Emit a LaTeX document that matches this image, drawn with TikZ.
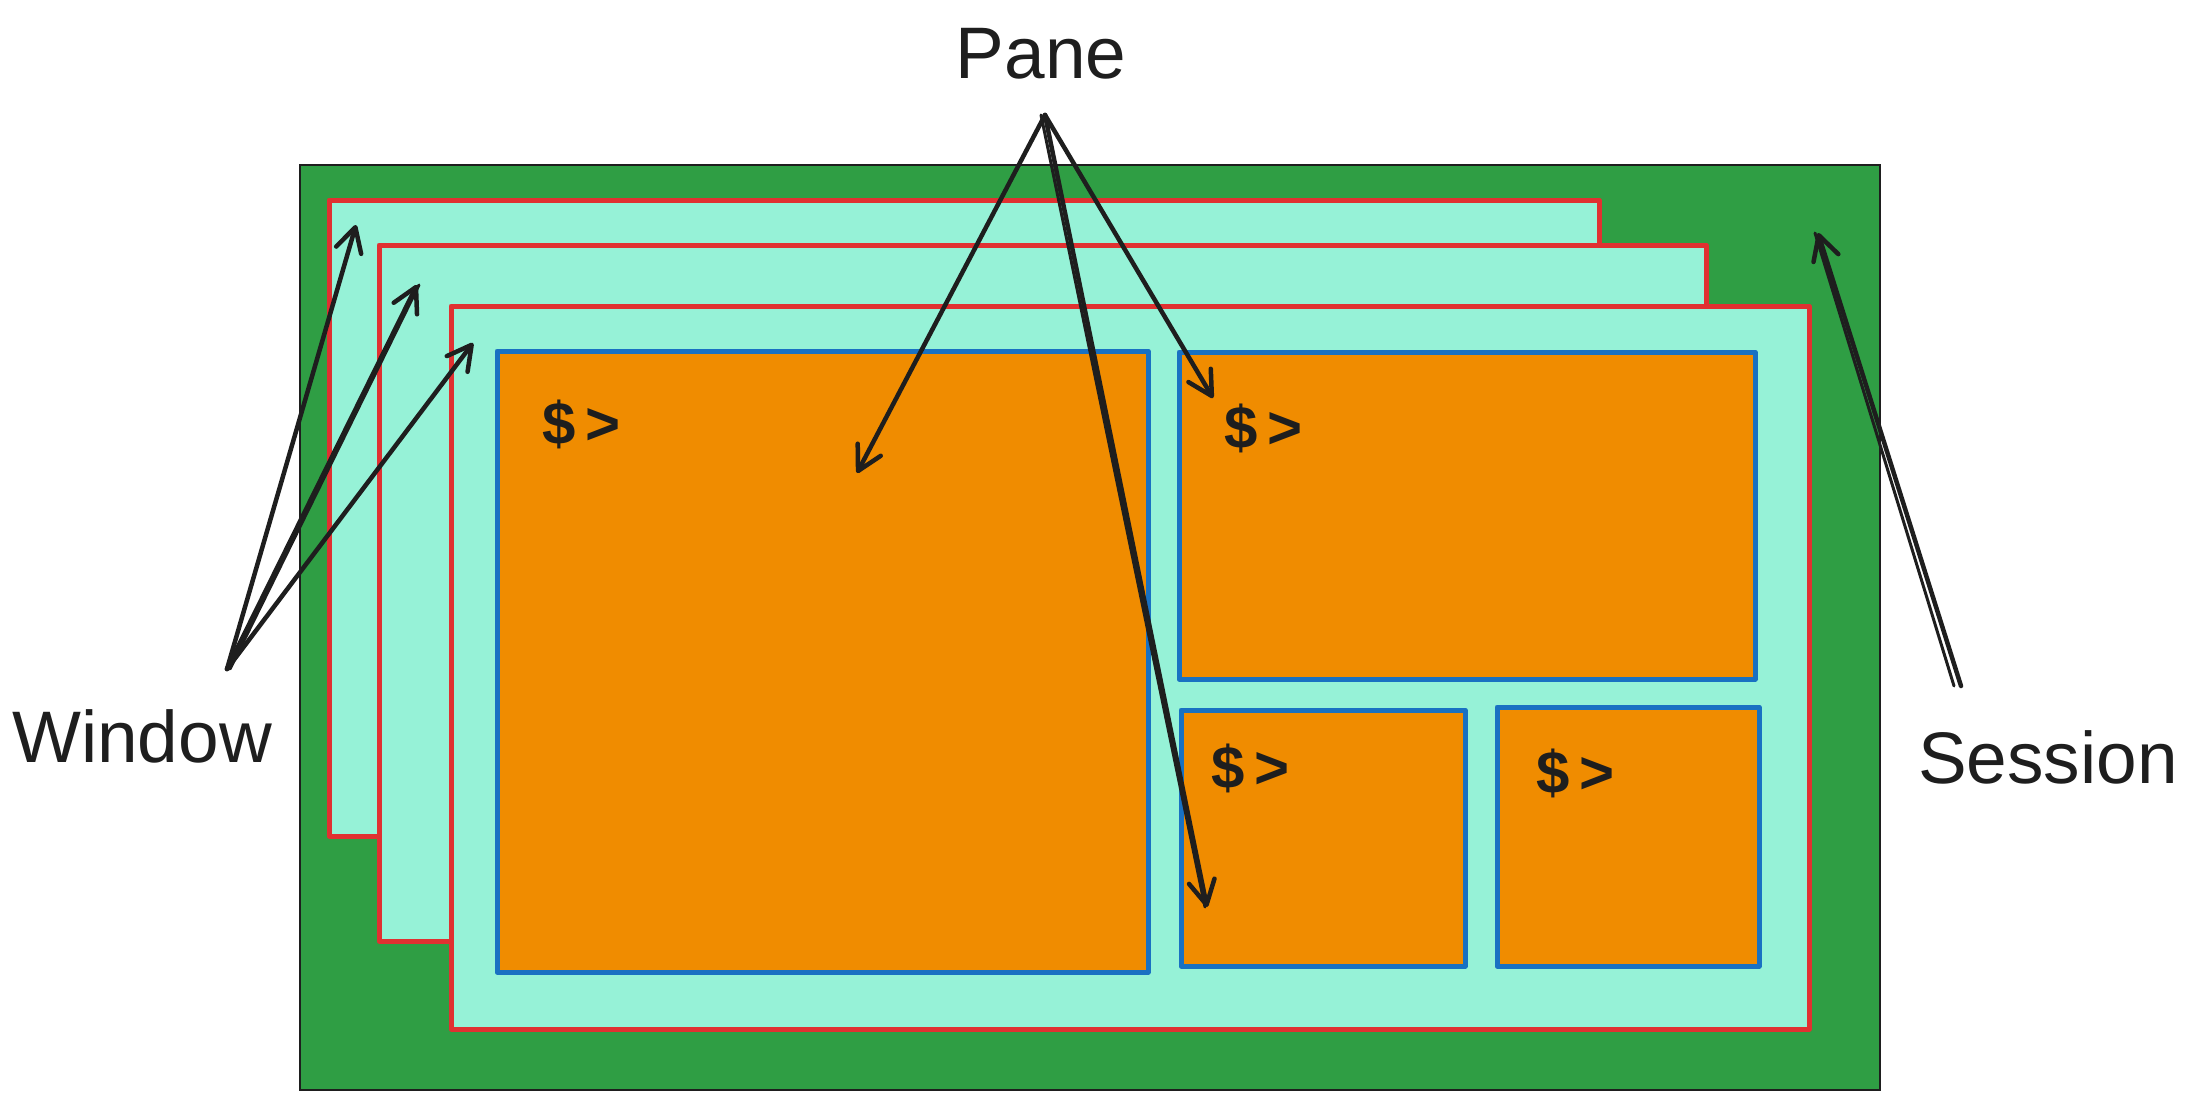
\documentclass[tikz,border=0pt]{standalone}
\usepackage{fontspec}
\setmainfont{Liberation Sans}
\usetikzlibrary{arrows.meta}
\definecolor{sessgreen}{HTML}{2F9E44}
\definecolor{wincyan}{HTML}{96F2D7}
\definecolor{winred}{HTML}{E03131}
\definecolor{paneorange}{HTML}{F08C00}
\definecolor{paneblue}{HTML}{1971C2}
\definecolor{ink}{HTML}{1E1E1E}
\tikzset{
  box/.style={anchor=north west, inner sep=0pt, outer sep=0pt},
  sessbox/.style={box, draw=ink, fill=sessgreen, line width=2.5pt},
  winbox/.style={box, draw=winred, fill=wincyan, line width=5pt, line join=round},
  panebox/.style={box, draw=paneblue, fill=paneorange, line width=5pt, line join=round},
  prompt/.style={anchor=base west, inner sep=0pt, text=ink, font=\fontsize{60}{60}\selectfont\bfseries},
  lbl/.style={anchor=base, inner sep=0pt, text=ink, font=\fontsize{73}{73}\selectfont},
  arr/.style={draw=ink, line width=4.5pt, line cap=round, line join=round,
    -{Straight Barb[length=24pt,width=26pt,line cap=round,line join=round]}},
  ghost/.style={draw=ink, line width=3pt, line cap=round},
}
\begin{document}
\begin{tikzpicture}[x=1pt,y=-1pt]
\useasboundingbox (0,0) rectangle (2196,1101);
% session
\node[sessbox, minimum width=1580pt, minimum height=925pt] (session) at (300,165) {};
% windows
\node[winbox, minimum width=1270pt, minimum height=636pt] (win1) at (329,200) {};
\node[winbox, minimum width=1327pt, minimum height=696pt] (win2) at (379,245) {};
\node[winbox, minimum width=1358pt, minimum height=723pt] (win3) at (451,306) {};
% panes
\node[panebox, minimum width=651pt, minimum height=621pt] (pane1) at (497,351) {};
\node[panebox, minimum width=576pt, minimum height=327pt] (pane2) at (1179,352) {};
\node[panebox, minimum width=284pt, minimum height=256pt] (pane3) at (1181,710) {};
\node[panebox, minimum width=262pt, minimum height=259pt] (pane4) at (1497,707) {};
% prompts
\node[prompt] (pr1) at (542,444) {\$\kern10pt>};
\node[prompt] (pr2) at (1224,448) {\$\kern10pt>};
\node[prompt] (pr3) at (1211,788) {\$\kern10pt>};
\node[prompt] (pr4) at (1536,793) {\$\kern10pt>};
% labels
\node[lbl] (paneLbl) at (1041,78) {Pane};
\node[lbl] (winLbl) at (142,762) {Window};
\node[lbl] (sessLbl) at (2048,783) {Session};
% arrow ends
\coordinate (paneSrc) at (1045,115);
\coordinate (winSrc) at (227,669);
\coordinate (sessSrc) at (1961,686);
\coordinate (tipP1) at (857,473);
\coordinate (tipP2) at (1213,398);
\coordinate (tipP3) at (1207,907);
\coordinate (tipW1) at (356,225);
\coordinate (tipW2) at (417,285);
\coordinate (tipW3) at (473,343);
\coordinate (tipS) at (1818,233);
% pane arrows
\draw[arr] (paneSrc) -- (tipP1);
\draw[arr] (paneSrc) -- (tipP2);
\draw[arr] (paneSrc) -- (tipP3);
\draw[ghost] ([xshift=-4pt]paneSrc) -- ([xshift=-2pt]tipP3);
% window arrows
\draw[arr] (winSrc) -- (tipW1);
\draw[arr] (winSrc) -- (tipW2);
\draw[ghost] ([xshift=3pt]winSrc) -- ([xshift=2pt]tipW2);
\draw[arr] (winSrc) -- (tipW3);
% session arrow
\draw[arr] (sessSrc) -- (tipS);
\draw[ghost] ([xshift=-7pt]sessSrc) -- ([xshift=-3pt]tipS);
\end{tikzpicture}
\end{document}
